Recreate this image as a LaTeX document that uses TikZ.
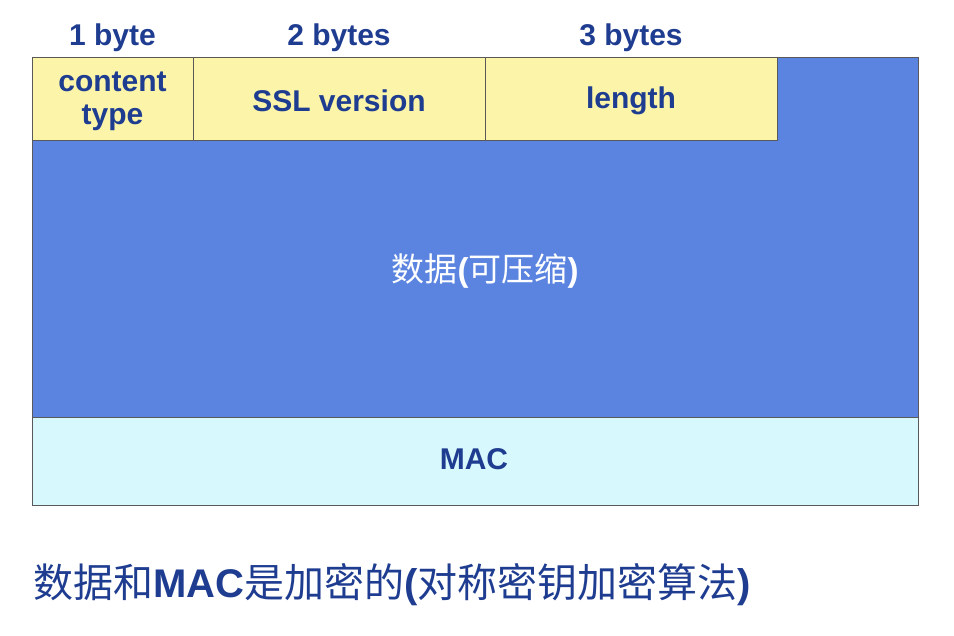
\documentclass[tikz,border=0pt]{standalone}
\usepackage{fontspec}
\setmainfont{Liberation Sans}
\newfontfamily\cjk{Noto Sans CJK SC}
\usetikzlibrary{positioning}
\definecolor{recblue}{HTML}{5B84E0}
\definecolor{hdryellow}{HTML}{FBF4A9}
\definecolor{maccyan}{HTML}{D7F8FC}
\definecolor{txtblue}{HTML}{1E3C90}
\begin{document}
\begin{tikzpicture}
            [x=1pt, y=-1pt,
            field/.style={
                draw=gray!70!black,
                thin,
                fill=hdryellow
            },
            size/.style={
                text=txtblue,
                align=center,
                font=\fontsize{30}{33}\selectfont\bfseries
            }
            ]
            \useasboundingbox (0,0) rectangle (954,636);

            % record body
            \draw[draw=gray!70!black, thin, fill=recblue] (32,57) rectangle (918,417);
            \node[text=white, font=\fontsize{33}{33}\selectfont] (data) at (485,271) {{\cjk 数据}\textbf{(}{\cjk 可压缩}\textbf{)}};
            \draw[draw=gray!70!black, thin, fill=maccyan] (32,417) rectangle (918,505);
            \node[size] (mac) at (474,459) {MAC};

            % header fields
            \foreach \name/\xa/\xb/\txt/\sz in {ctype/32/193/{content\\type}/1 byte, ver/193/485/SSL version/2 bytes, len/485/777/length/3 bytes}{
                \path[field] (\xa,57) rectangle (\xb,140);
                \node[size] (\name) at ({(\xa+\xb)/2},101) {\txt};
                \node[size] (\name-sz) at ({(\xa+\xb)/2},38) {\sz};
            }

            % caption
            \node[anchor=west, text=txtblue, font=\fontsize{40}{40}\selectfont] (note) at (30,585)
                {{\cjk 数据和}\textbf{MAC}{\cjk 是加密的}\textbf{(}{\cjk 对称密钥加密算法}\textbf{)}};
\end{tikzpicture}
\end{document}
